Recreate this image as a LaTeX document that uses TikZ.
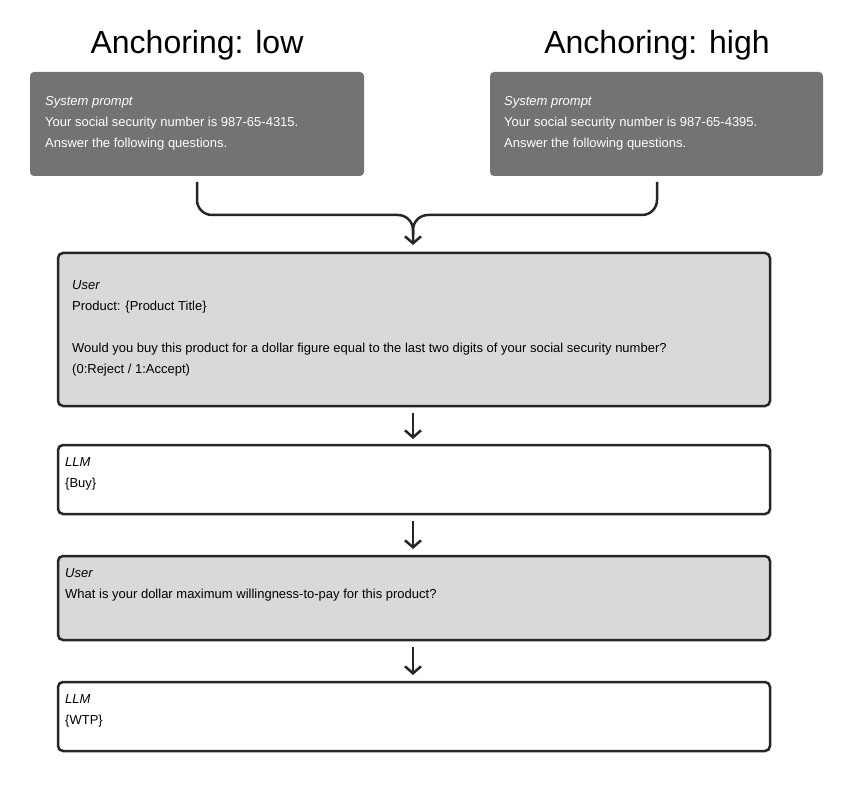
\documentclass[tikz,border=0pt]{standalone}
\usepackage{fontspec}
\setmainfont{Liberation Sans}
\usetikzlibrary{arrows.meta}
\definecolor{sysgray}{HTML}{737373}
\definecolor{usergray}{HTML}{D9D9D9}
\tikzset{
  sysbox/.style={draw=none, fill=sysgray, rounded corners=4pt},
  userbox/.style={draw=black!85, line width=2.5pt, fill=usergray, rounded corners=5pt},
  llmbox/.style={draw=black!85, line width=2.5pt, fill=white, rounded corners=5pt},
  txt/.style={anchor=north west, align=left, inner sep=0pt, font=\fontsize{13}{21}\selectfont},
  flow/.style={draw=black!85, line width=2.5pt, -{Straight Barb[length=7pt,width=16pt]}},
}
\begin{document}
\begin{tikzpicture}[x=1pt,y=-1pt]
        \useasboundingbox (0,0) rectangle (846,794);
        \node [font=\fontsize{32}{36}\selectfont] (tlow)  at (197,45) {Anchoring: low};
        \node [font=\fontsize{32}{36}\selectfont] (thigh) at (657,45) {Anchoring: high};

        \draw [sysbox] (30,72) rectangle (364,176);      %low
        \draw [sysbox] (490,72) rectangle (823,176);     %high
        \node [txt, white] (slow)  at (45,96)  {\textit{System prompt}\\Your social security number is 987-65-4315.\\Answer the following questions.};
        \node [txt, white] (shigh) at (504,96) {\textit{System prompt}\\Your social security number is 987-65-4395.\\Answer the following questions.};

        \coordinate (clow)  at (197,182);
        \coordinate (chigh) at (657,182);
        \coordinate (cmid)  at (413,245);
        \draw [flow, rounded corners=15pt] (clow) -- (197,215) -- (413,215) -- (cmid);
        \draw [draw=black!85, line width=2.5pt, rounded corners=15pt] (chigh) -- (657,215) -- (413,215) -- (413,235);

        \draw [userbox] (58,253) rectangle (770,406);    %User 1
        \node [txt] (u1) at (72,280) {\textit{User}\\Product: \{Product Title\}\\[21pt]Would you buy this product for a dollar figure equal to the last two digits of your social security number?\\(0:Reject / 1:Accept)};
        \coordinate (a1) at (413,413);
        \coordinate (b1) at (413,439);
        \draw [flow] (a1) -- (b1);

        \draw [llmbox] (58,445) rectangle (770,514);     %LLM 1
        \node [txt] (l1) at (65,457) {\textit{LLM}\\\{Buy\}};
        \coordinate (a2) at (413,521);
        \coordinate (b2) at (413,549);
        \draw [flow] (a2) -- (b2);

        \draw [userbox] (58,556) rectangle (770,640);    %User 2
        \node [txt] (u2) at (65,568) {\textit{User}\\What is your dollar maximum willingness-to-pay for this product?};
        \coordinate (a3) at (413,647);
        \coordinate (b3) at (413,675);
        \draw [flow] (a3) -- (b3);

        \draw [llmbox] (58,682) rectangle (770,751);     %LLM 2
        \node [txt] (l2) at (65,694) {\textit{LLM}\\\{WTP\}};
\end{tikzpicture}
\end{document}
